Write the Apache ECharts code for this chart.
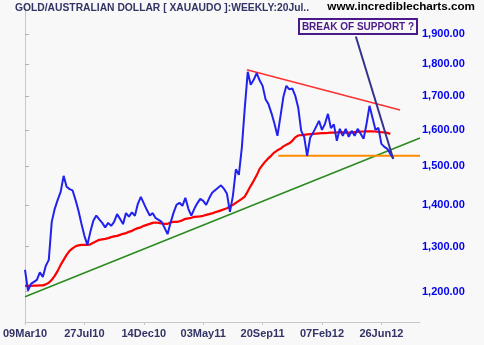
<!DOCTYPE html>
<html>
<head>
<meta charset="utf-8">
<script src="https://cdn.jsdelivr.net/npm/echarts@6/dist/echarts.min.js"></script>
<style>
  html, body { margin: 0; padding: 0; background: #f8f8f8; }
  #chart { width: 484px; height: 345px; }
</style>
</head>
<body>
<div id="chart"></div>
<script>
// Week numbers (from 09Mar10) where the date labels sit, and their texts
const labelWeeks = [0, 20, 40, 60, 80, 100, 120];
const dateLabels = ['09Mar10', '27Jul10', '14Dec10', '03May11', '20Sep11', '07Feb12', '26Jun12'];

// Price axis ticks (log scale)
const priceTicks = [1200, 1300, 1400, 1500, 1600, 1700, 1800, 1900];

// Weekly close, gold in Australian dollars, one value per week from 09Mar10
const closePrice = [
  1247.4, 1202.1, 1216.6, 1221.0, 1225.3, 1241.8, 1231.4, 1256.3, 1269.8, 1358.8,
  1390.7, 1413.2, 1433.5, 1475.0, 1446.4, 1440.4, 1437.4, 1413.2, 1385.8, 1354.0,
  1325.3, 1304.2, 1334.8, 1361.3, 1374.2, 1364.9, 1356.4, 1345.6, 1356.4, 1349.2,
  1358.8, 1377.6, 1366.1, 1353.3, 1380.1, 1371.7, 1382.1, 1373.5, 1403.2, 1420.8,
  1404.4, 1388.3, 1374.2, 1380.1, 1367.8, 1363.7, 1358.8, 1344.4, 1329.4, 1356.4,
  1380.8, 1400.7, 1405.7, 1398.2, 1418.3, 1390.7, 1374.0, 1390.7, 1404.4, 1415.7,
  1410.7, 1400.7, 1417.0, 1431.0, 1437.4, 1443.8, 1450.2, 1441.2, 1428.4, 1383.3,
  1423.3, 1492.2, 1477.6, 1550.5, 1665.1, 1775.5, 1734.8, 1750.4, 1771.4, 1748.8,
  1731.7, 1690.5, 1675.5, 1648.9, 1618.3, 1584.0, 1639.5, 1698.1, 1731.7, 1721.0,
  1724.0, 1701.1, 1665.1, 1598.2, 1581.2, 1528.5, 1578.4, 1592.5, 1609.7, 1627.0,
  1601.1, 1618.3, 1647.4, 1605.9, 1616.8, 1570.0, 1603.9, 1584.0, 1603.9, 1581.2,
  1598.2, 1584.0, 1603.9, 1589.7, 1575.6, 1618.3, 1671.1, 1635.7, 1601.1, 1606.8,
  1561.6, 1553.2, 1547.7, 1534.0, 1521.7
];

// Moving average of the close
const movingAvg = [
  1212.3, 1212.3, 1212.3, 1212.7, 1212.9, 1213.4, 1213.4, 1215.5, 1218.8, 1225.3,
  1234.1, 1245.1, 1258.5, 1269.8, 1281.2, 1290.4, 1296.1, 1300.8, 1303.1, 1304.2,
  1304.2, 1304.2, 1305.4, 1308.9, 1312.4, 1315.9, 1317.1, 1318.3, 1319.9, 1322.3,
  1324.2, 1325.3, 1327.7, 1330.1, 1331.8, 1334.8, 1337.2, 1340.8, 1343.7, 1345.6,
  1349.2, 1351.6, 1354.0, 1356.4, 1357.2, 1356.4, 1355.2, 1354.0, 1354.0, 1357.2,
  1358.8, 1358.8, 1360.1, 1362.5, 1366.1, 1367.4, 1368.6, 1371.0, 1371.7, 1372.2,
  1373.5, 1375.9, 1377.6, 1379.6, 1382.1, 1384.5, 1387.0, 1389.5, 1392.0, 1396.4,
  1400.7, 1405.7, 1410.7, 1415.7, 1421.5, 1434.8, 1448.9, 1461.9, 1476.3, 1493.5,
  1504.2, 1514.1, 1522.3, 1529.9, 1538.1, 1543.6, 1547.7, 1554.6, 1558.8, 1563.0,
  1570.0, 1579.8, 1584.9, 1586.3, 1586.9, 1588.3, 1589.1, 1589.7, 1590.2, 1591.1,
  1591.6, 1592.0, 1592.5, 1593.1, 1593.4, 1593.7, 1594.2, 1593.9, 1593.4, 1593.4,
  1593.9, 1594.8, 1595.4, 1596.0, 1596.3, 1596.8, 1596.8, 1596.6, 1596.3, 1595.4,
  1594.5, 1593.7, 1592.5, 1589.7
];

// Hand-drawn trend lines: [week, price] end points
const supportTrend    = [[0, 1189], [133, 1578]];
const resistanceTrend = [[74.7, 1782], [126.3, 1659]];
const supportLevel    = [[85.3, 1528.6], [133, 1528.6]];
const breakLine       = [[111.4, 1891], [124.0, 1520]];

// Visible ranges
const weekMax = 133;
const priceMin = 1136.6;
const priceMax = 2007.4;

const ln = Math.log;
const toLog = pts => pts.map(([w, p]) => [w, ln(p)]);
const seriesFrom = arr => arr.map((p, i) => [i, ln(p)]);

const FONT = '"Liberation Sans", Arial, sans-serif';

function fmtPrice(v) {
  const p = Math.round(Math.exp(v));
  return p.toLocaleString('en-US') + '.00';
}

const chart = echarts.init(document.getElementById('chart'), null, { renderer: 'canvas' });

function line(data, color, width, z) {
  return {
    type: 'line',
    data: data,
    symbol: 'none',
    silent: true,
    z: z,
    lineStyle: { color: color, width: width },
    animation: false
  };
}

chart.setOption({
  backgroundColor: '#f8f8f8',
  animation: false,
  grid: { left: 25, right: 64, top: 3, bottom: 23, containLabel: false },
  xAxis: {
    type: 'value',
    min: 0,
    max: weekMax,
    splitLine: { show: false },
    axisLine: { show: true, lineStyle: { color: '#c8c8c8', width: 1 } },
    axisTick: { show: true, length: 3, lineStyle: { color: '#c8c8c8' }, customValues: labelWeeks },
    axisLabel: {
      customValues: labelWeeks,
      formatter: v => dateLabels[labelWeeks.indexOf(Math.round(v))] || '',
      color: '#333366',
      fontFamily: FONT,
      fontWeight: 'bold',
      fontSize: 11,
      margin: 6
    }
  },
  yAxis: [{
    type: 'value',
    position: 'right',
    min: ln(priceMin),
    max: ln(priceMax),
    splitLine: { show: false },
    axisLine: { show: true, lineStyle: { color: '#c8c8c8', width: 1 } },
    axisTick: { show: true, length: 4, lineStyle: { color: '#b0b0b0' }, customValues: priceTicks.map(ln) },
    axisLabel: {
      customValues: priceTicks.map(ln),
      formatter: fmtPrice,
      color: '#0000ee',
      fontFamily: FONT,
      fontWeight: 'bold',
      fontSize: 11,
      margin: 2
    }
  }, {
    type: 'value',
    position: 'left',
    min: ln(priceMin),
    max: ln(priceMax),
    splitLine: { show: false },
    axisLine: { show: true, lineStyle: { color: '#c8c8c8', width: 1 } },
    axisTick: { show: false },
    axisLabel: { show: false }
  }],
  title: [{
    text: 'GOLD/AUSTRALIAN DOLLAR [ XAUAUDO ]:WEEKLY:20Jul..',
    left: 15, top: 3,
    padding: 0,
    textStyle: { color: '#333366', fontFamily: FONT, fontWeight: 'bold', fontSize: 10.3 }
  }, {
    text: 'www.incrediblecharts.com',
    right: 9, top: 1,
    padding: 0,
    textStyle: { color: '#000000', fontFamily: FONT, fontWeight: 'bold', fontSize: 11.7 }
  }],
  graphic: [{
    type: 'group',
    left: 298, top: 18,
    children: [{
      type: 'rect',
      shape: { x: 0, y: 0, width: 118, height: 15 },
      style: { fill: '#f8f8f8', stroke: '#4b1a8a', lineWidth: 2 }
    }, {
      type: 'text',
      x: 59, y: 8,
      style: {
        text: 'BREAK OF SUPPORT ?',
        fill: '#4b1a8a',
        font: 'bold 10px "Liberation Sans", Arial, sans-serif',
        align: 'center',
        verticalAlign: 'middle'
      }
    }]
  }],
  series: [
    line(toLog(supportTrend), '#2a8a1e', 1.5, 2),
    line(toLog(supportLevel), '#ff8c00', 2, 2),
    line(seriesFrom(movingAvg), '#ff0000', 2.2, 3),
    line(toLog(resistanceTrend), '#ff3030', 1.5, 3),
    line(seriesFrom(closePrice), '#2222ee', 2, 4),
    line(toLog(breakLine), '#33338f', 2, 5)
  ]
});
</script>
</body>
</html>
